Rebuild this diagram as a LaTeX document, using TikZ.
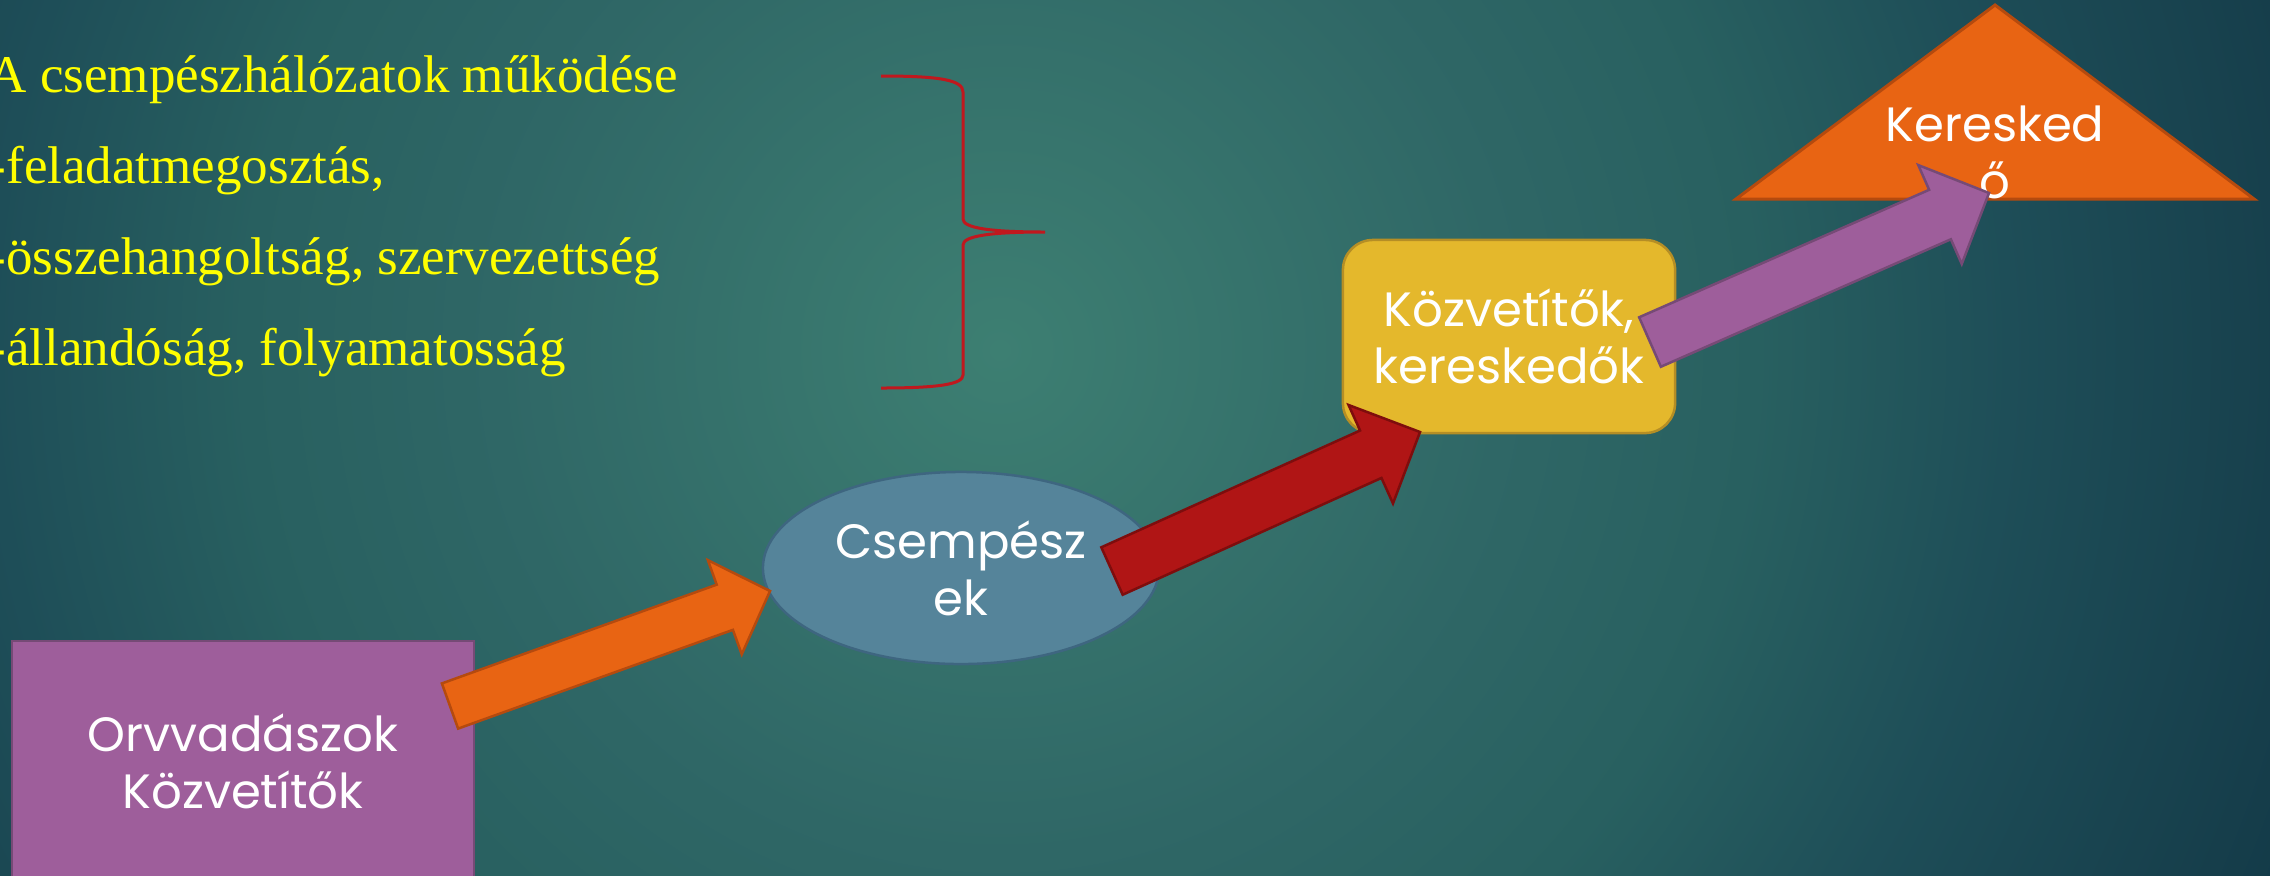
\documentclass[tikz,border=0pt]{standalone}
\usepackage{fontspec}
\setmainfont{Liberation Serif}
\newfontfamily\shapefont{Poppins}
\usetikzlibrary{calc,shapes.geometric}

\definecolor{bgA}{HTML}{3D7F72}
\definecolor{bgB}{HTML}{2F6766}
\definecolor{bgC}{HTML}{286060}
\definecolor{bgD}{HTML}{1E4E58}
\definecolor{bgE}{HTML}{163E4B}
\definecolor{bgF}{HTML}{123A48}
\definecolor{purpF}{HTML}{9E5E9B}
\definecolor{purpD}{HTML}{764A76}
\definecolor{ellF}{HTML}{55849A}
\definecolor{ellD}{HTML}{3E6680}
\definecolor{yelF}{HTML}{E4B82C}
\definecolor{yelD}{HTML}{B58E25}
\definecolor{triF}{HTML}{E86413}
\definecolor{triD}{HTML}{B54A0E}
\definecolor{redF}{HTML}{B01515}
\definecolor{redD}{HTML}{7E0D0D}
\definecolor{braceRed}{HTML}{C0181E}
\definecolor{txtYellow}{HTML}{FFFF00}

\pgfdeclareradialshading{bgshade}{\pgfpoint{0bp}{0bp}}{color(0bp)=(bgA); color(9bp)=(bgB); color(13.5bp)=(bgC); color(18bp)=(bgD); color(23.5bp)=(bgE); color(25bp)=(bgF); color(50bp)=(bgF)}

\newcommand{\blockarrow}[6]{%
  \coordinate (#1-hb) at ($(#2)!#5!(#1)$);
  \filldraw[#6] ($(#1)!#3!90:(#2)$) -- ($(#1-hb)!#3!90:(#2)$) -- ($(#1-hb)!#4!90:(#2)$)
    -- (#2) -- ($(#1-hb)!#4!-90:(#2)$) -- ($(#1-hb)!#3!-90:(#2)$) -- ($(#1)!#3!-90:(#2)$) -- cycle;
}

\tikzset{
  lbl/.style={text=white, font=\shapefont\fontsize{13.7pt}{16.2pt}\selectfont, align=center},
  bordered/.style={line width=0.025cm},
  bulletline/.style={anchor=base west, inner sep=0pt, text=txtYellow, font=\fontsize{15.08pt}{18pt}\selectfont},
  bracestyle/.style={draw=braceRed, line width=0.03cm},
  barrow/.style={line width=0.025cm, line join=miter},
}

\begin{document}
\begin{tikzpicture}[x=0.01cm,y=-0.01cm]
\useasboundingbox (0,0) rectangle (2270,875);
\begin{scope}
  \clip (0,0) rectangle (2270,875);
  \fill[bgF] (0,0) rectangle (2270,875);
  \shade[shading=bgshade] (1000,350) circle (14cm);

  % bullet text
  \node[bulletline] (t1) at (-12,92) {A csempészhálózatok működése};
  \node[bulletline] (t2) at (-12,183) {-feladatmegosztás,};
  \node[bulletline] (t3) at (-12,274) {-összehangoltság, szervezettség};
  \node[bulletline] (t4) at (-12,365) {-állandóság, folyamatosság};

  % brace
  \draw[bracestyle] (881,76) .. controls (940,76) and (963,80) .. (963,92) -- (963,219)
    .. controls (963,228) and (990,232) .. (1045,232)
    .. controls (990,232) and (963,236) .. (963,245) -- (963,375)
    .. controls (963,384) and (940,388) .. (881,388);

  % shapes
  \node[rectangle, draw=purpD, fill=purpF, bordered, minimum width=4.62cm, minimum height=2.40cm, inner sep=0pt, lbl] (orv) at (243,761) {Orvvadászok\\Közvetítők};
  \node[ellipse, draw=ellD, fill=ellF, bordered, minimum width=3.96cm, minimum height=1.92cm, inner sep=0pt, lbl] (csem) at (961,568) {Csempész\\ek};
  \node[rectangle, rounded corners=0.3cm, draw=yelD, fill=yelF, bordered, minimum width=3.32cm, minimum height=1.93cm, inner sep=0pt, lbl] (koz) at (1509,336.5) {Közvetítők,\\kereskedők};
  \coordinate (apex) at (1995,5);
  \coordinate (tbl) at (1736,199);
  \coordinate (tbr) at (2254,199);
  \filldraw[fill=triF, draw=triD, line width=0.03cm, line join=miter] (apex) -- (tbl) -- (tbr) -- cycle;
  \node[lbl] (ker) at (1995,152) {Keresked\\ő};

  % arrows
  \coordinate (oa) at (450,706);
  \coordinate (ob) at (770,591);
  \blockarrow{oa}{ob}{0.24cm}{0.50cm}{0.48cm}{barrow, fill=triF, draw=triD}
  \coordinate (ra) at (1112,571);
  \coordinate (rb) at (1420,432);
  \blockarrow{ra}{rb}{0.26cm}{0.54cm}{0.54cm}{barrow, fill=redF, draw=redD}
  \coordinate (pa) at (1650,342);
  \coordinate (pb) at (1989,193);
  \blockarrow{pa}{pb}{0.27cm}{0.54cm}{0.535cm}{barrow, fill=purpF, draw=purpD}
\end{scope}
\end{tikzpicture}
\end{document}
